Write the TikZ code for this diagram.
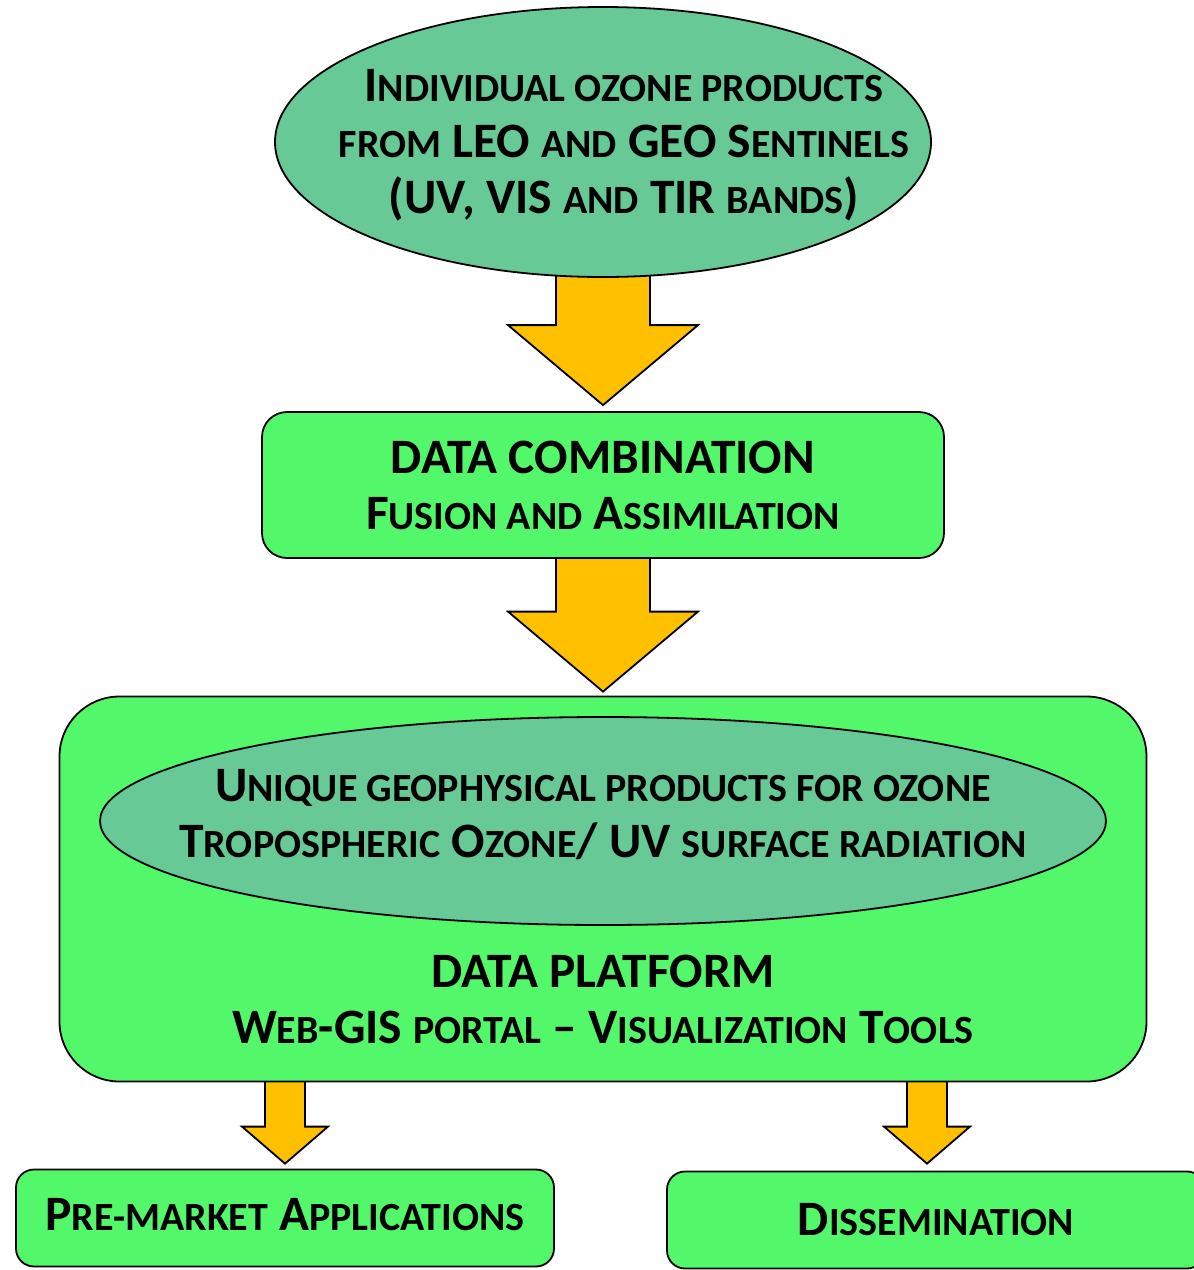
\documentclass[tikz,border=0pt]{standalone}
\usepackage{fontspec}
\setmainfont{Carlito}
\usetikzlibrary{shapes.geometric,calc,positioning,backgrounds}

\definecolor{boxgreen}{RGB}{82,247,106}
\definecolor{ovalgreen}{RGB}{102,201,150}
\definecolor{arrowgold}{RGB}{255,192,0}

% small capitals made by hand
\newcommand{\sm}[1]{{\fontsize{40}{56}\selectfont\MakeUppercase{#1}}}
% block arrow: from, to, shaft half width, head half width, head length
\newcommand{\bigarrow}[5]{%
  \draw[flow] let \p1=(#1), \p2=(#2) in
    (\x1-#3,\y1) -- (\x1+#3,\y1) -- (\x1+#3,\y2+#5) -- (\x1+#4,\y2+#5)
    -- (\x1,\y2) -- (\x1-#4,\y2+#5) -- (\x1-#3,\y2+#5) -- cycle;}

\begin{document}
\begin{tikzpicture}[x=1pt,y=-1pt]
    \tikzstyle{oval}=[ellipse, draw, line width=1.8pt, fill=ovalgreen, inner sep=0pt]
    \tikzstyle{panel}=[rectangle, rounded corners=25pt, draw, line width=1.8pt,
                       fill=boxgreen, inner sep=0pt]
    \tikzstyle{caption}=[align=center, inner sep=0pt,
                         font=\fontsize{49.5}{56}\selectfont\bfseries]
    \tikzstyle{flow}=[draw, line width=1.8pt, fill=arrowgold, line join=miter]

    \useasboundingbox (0,0) rectangle (1194,1270);
    \clip (0,0) rectangle (1194,1270);

    % Sources
    \node [oval, minimum width=656, minimum height=270] at (603,142) (products) {};
    \node [caption] at (624,145) (productstext)
        {I\sm{ndividual ozone products}\\
         \sm{from} LEO \sm{and} GEO S\sm{entinels}\\
         (UV, VIS \sm{and} TIR \sm{bands})};

    % Combination step
    \node [panel, minimum width=682, minimum height=146] at (603,485) (combo) {};
    \node [caption] at (combo.center) (combotext)
        {DATA COMBINATION\\ F\sm{usion and} A\sm{ssimilation}};

    % Platform with its products
    \node [panel, rounded corners=60pt, minimum width=1087, minimum height=385]
        at (603,889) (platform) {};
    \node [oval, minimum width=1006, minimum height=208] at (603,821) (unique) {};
    \node [caption] at (603,815) (uniquetext)
        {U\sm{nique geophysical products for ozone}\\
         T\sm{ropospheric} O\sm{zone}/ UV \sm{surface radiation}};
    \node [caption] at (603,999) (platformtext)
        {DATA PLATFORM\\ W\sm{eb}-GIS \sm{portal} -- V\sm{isualization} T\sm{ools}};

    % Outputs
    \node [panel, rounded corners=18pt, minimum width=538, minimum height=97]
        at (285,1218) (premarket) {};
    \node [caption] at ([yshift=3pt]premarket.center) {P\sm{re-market} A\sm{pplications}};
    \node [panel, rounded corners=18pt, minimum width=538, minimum height=97]
        at (936,1220) (dissem) {};
    \node [caption] at (dissem.center) {D\sm{issemination}};

    % Arrows between the stages
    \begin{scope}[on background layer]
        \bigarrow{[yshift=4pt]products.south}{[yshift=6pt]combo.north}{47pt}{95pt}{80pt}
        \bigarrow{[yshift=4pt]combo.south}{[yshift=4pt]platform.north}{47pt}{95pt}{80pt}
        \bigarrow{[yshift=4pt]platform.south -| premarket.north}{[yshift=5pt]premarket.north}{20pt}{43pt}{37pt}
        \bigarrow{[yshift=4pt,xshift=-9pt]platform.south -| dissem.north}{[yshift=7pt,xshift=-9pt]dissem.north}{20pt}{43pt}{37pt}
    \end{scope}
\end{tikzpicture}
\end{document}
